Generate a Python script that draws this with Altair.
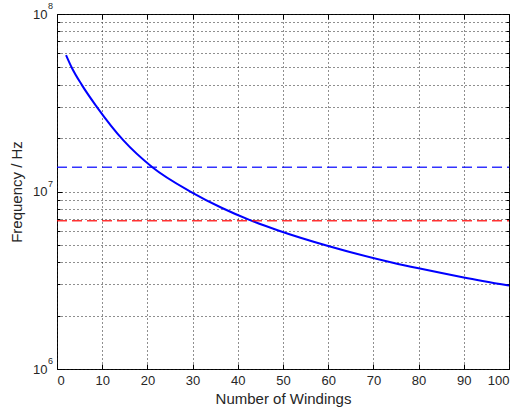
import altair as alt
import pandas as pd

# ---- data ----
windings = [2, 3.25, 5.45, 8.8, 14.7, 21.1, 29.8, 36.4, 42.7, 48.8, 60, 74.3, 80, 90, 100]
frequency = [5.87e7, 5.0e7, 4.0e7, 3.0e7, 1.94e7, 1.37e7, 9.9e6, 8.1e6, 6.9e6, 6.05e6,
             4.93e6, 3.97e6, 3.69e6, 3.28e6, 2.95e6]
blue_level = [1.37e7]
red_level = [6.85e6]
level_start = [0]
level_end = [100]
x_ticks = [0, 10, 20, 30, 40, 50, 60, 70, 80, 90, 100]
y_ticks = [m * 10 ** e for e in (6, 7) for m in range(1, 10)] + [10 ** 8]
decades = [1e6, 1e7, 1e8]
exponents = ["6", "7", "8"]

W, H = 452, 355
FONT = "Liberation Sans"
TXT = "#262626"
GRID = "#1e1e1e"

is_major = "abs(log(datum.value)/LN10 - round(log(datum.value)/LN10)) < 0.001"
y_tick_size = {"condition": {"test": is_major, "value": 5}, "value": 3}

xscale = alt.Scale(domain=[0, 100], nice=False, zero=False)
yscale = alt.Scale(type="log", domain=[1e6, 1e8], nice=False)

curve_df = pd.DataFrame({"N": windings, "f": frequency})
blue_df = pd.DataFrame({"x0": level_start, "x1": level_end, "f": blue_level})
red_df = pd.DataFrame({"x0": level_start, "x1": level_end, "f": red_level})
exp_df = pd.DataFrame({"f": decades, "e": exponents})

curve = alt.Chart(curve_df).mark_line(color="#0000ff", strokeWidth=2, interpolate="monotone").encode(
    x=alt.X("N:Q", scale=xscale, axis=alt.Axis(
        values=x_ticks, format="d", title="Number of Windings",
        grid=True, gridDash=[1, 3], gridColor=GRID, ticks=False, domain=False,
        labelFont=FONT, labelFontSize=13, labelColor=TXT, labelPadding=5,
        titleFont=FONT, titleFontSize=15, titleFontWeight="normal", titleColor=TXT, titlePadding=4)),
    y=alt.Y("f:Q", scale=yscale, axis=alt.Axis(
        values=y_ticks, labelExpr=f"{is_major} ? '10' : ''", title="Frequency / Hz",
        grid=True, gridDash=[1, 3], gridColor=GRID, ticks=False, domain=False,
        labelFont=FONT, labelFontSize=13, labelColor=TXT, labelPadding=10,
        titleFont=FONT, titleFontSize=15, titleFontWeight="normal", titleColor=TXT, titlePadding=8)),
)

blue = alt.Chart(blue_df).mark_rule(color="#0000ff", strokeWidth=1.5, strokeDash=[10, 5], opacity=0.8).encode(
    x=alt.X("x0:Q", scale=xscale, axis=alt.Axis(
        orient="top", offset=-H, values=x_ticks, labels=False, domain=False, grid=False,
        ticks=True, tickSize=5, tickColor="black", title=None)),
    x2="x1:Q",
    y=alt.Y("f:Q", scale=yscale, axis=alt.Axis(
        orient="right", offset=-W, values=y_ticks, labels=False, domain=False, grid=False,
        ticks=True, tickSize=y_tick_size, tickColor="black", title=None)),
)

red = alt.Chart(red_df).mark_rule(color="#ff0000", strokeWidth=1.5, strokeDash=[10, 5], opacity=0.8).encode(
    x=alt.X("x0:Q", scale=xscale, axis=alt.Axis(
        orient="bottom", offset=-H, values=x_ticks, labels=False, domain=False, grid=False,
        ticks=True, tickSize=5, tickColor="black", title=None)),
    x2="x1:Q",
    y=alt.Y("f:Q", scale=yscale, axis=alt.Axis(
        orient="left", offset=-W, values=y_ticks, labels=False, domain=False, grid=False,
        ticks=True, tickSize=y_tick_size, tickColor="black", title=None)),
)

exps = alt.Chart(exp_df).mark_text(align="left", baseline="middle", dy=-8, font=FONT,
                                   fontSize=9, color=TXT).encode(
    x=alt.value(-9),
    y=alt.Y("f:Q", scale=yscale, axis=None),
    text="e:N",
)

chart = alt.layer(curve, blue, red, exps).resolve_scale(
    x="shared", y="shared"
).resolve_axis(
    x="independent", y="independent"
).properties(
    width=W, height=H,
    autosize=alt.AutoSizeParams(type="none"),
    padding={"left": 57, "top": 14, "right": 10, "bottom": 45},
    background="white",
).configure_view(stroke="black", strokeWidth=1)

chart.save("out.html", embed_options={"renderer": "svg", "actions": False})
